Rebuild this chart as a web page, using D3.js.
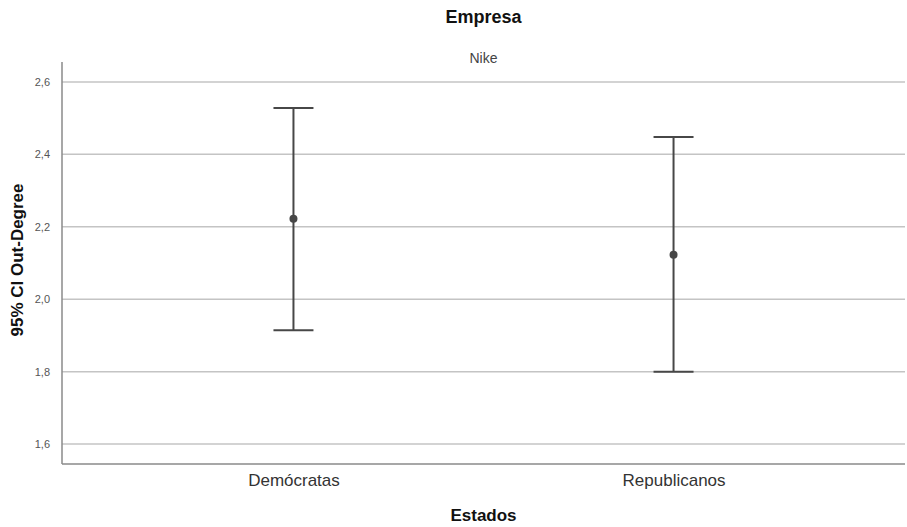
<!DOCTYPE html>
<html>
<head>
<meta charset="utf-8">
<script src="https://cdn.jsdelivr.net/npm/d3@7"></script>
<style>
  body { margin: 0; background: #fff; }
  svg { display: block; font-family: "Liberation Sans", Arial, sans-serif; }
</style>
</head>
<body>
<svg id="chart" width="907" height="527"></svg>
<script>
const categories = ["Demócratas", "Republicanos"];
const means = [2.222, 2.123];
const lowerCI = [1.914, 1.800];
const upperCI = [2.528, 2.448];
const yTicks = [1.6, 1.8, 2.0, 2.2, 2.4, 2.6];
const chartTitle = "Empresa";
const subTitle = "Nike";
const yLabel = "95% CI Out-Degree";
const xLabel = "Estados";

(function () {
const svg = d3.select("#chart");
const mLeft = 62, mRight = 905, mTop = 62, mBottom = 464;
const cx = (mLeft + mRight) / 2;

const y = d3.scaleLinear().domain([1.545, 2.655]).range([mBottom, mTop]);
const x = d3.scalePoint().domain(categories).range([mLeft, mRight]).padding(0.609);

const fmt = v => d3.format(".1f")(v).replace(".", ",");

// gridlines
svg.append("g").selectAll("line").data(yTicks).join("line")
  .attr("x1", mLeft).attr("x2", mRight)
  .attr("y1", d => y(d)).attr("y2", d => y(d))
  .attr("stroke", "#c4c4c4").attr("stroke-width", 1.5);

// y axis
const yAxis = d3.axisLeft(y).tickValues(yTicks).tickFormat(fmt).tickSize(0).tickPadding(12);
const gy = svg.append("g").attr("transform", `translate(${mLeft},0)`).call(yAxis);
gy.select(".domain").attr("stroke", "#8a8a8a").attr("stroke-width", 1.5).attr("d", `M0,${mTop}V${mBottom}`);
gy.selectAll("text").attr("font-size", 11).attr("fill", "#555");

// x axis
const xAxis = d3.axisBottom(x).tickSize(0).tickPadding(10);
const gx = svg.append("g").attr("transform", `translate(0,${mBottom})`).call(xAxis);
gx.select(".domain").attr("stroke", "#8a8a8a").attr("stroke-width", 1.5).attr("d", `M${mLeft},0H${mRight}`);
gx.selectAll("text").attr("font-size", 17).attr("fill", "#333");

// error bars
const data = categories.map((c, i) => ({ c, m: means[i], lo: lowerCI[i], hi: upperCI[i] }));
const g = svg.append("g");
const capW = 20;
g.selectAll(".stem").data(data).join("line").attr("class", "stem")
  .attr("x1", d => x(d.c)).attr("x2", d => x(d.c))
  .attr("y1", d => y(d.hi)).attr("y2", d => y(d.lo))
  .attr("stroke", "#474747").attr("stroke-width", 2);
g.selectAll(".capHi").data(data).join("line").attr("class", "capHi")
  .attr("x1", d => x(d.c) - capW).attr("x2", d => x(d.c) + capW)
  .attr("y1", d => y(d.hi)).attr("y2", d => y(d.hi))
  .attr("stroke", "#474747").attr("stroke-width", 2);
g.selectAll(".capLo").data(data).join("line").attr("class", "capLo")
  .attr("x1", d => x(d.c) - capW).attr("x2", d => x(d.c) + capW)
  .attr("y1", d => y(d.lo)).attr("y2", d => y(d.lo))
  .attr("stroke", "#474747").attr("stroke-width", 2);
g.selectAll("circle").data(data).join("circle")
  .attr("cx", d => x(d.c)).attr("cy", d => y(d.m)).attr("r", 4)
  .attr("fill", "#474747");

// titles
svg.append("text").attr("x", cx).attr("y", 23).attr("text-anchor", "middle")
  .attr("font-size", 18).attr("font-weight", "bold").attr("fill", "#111").text(chartTitle);
svg.append("text").attr("x", cx).attr("y", 63).attr("text-anchor", "middle")
  .attr("font-size", 14).attr("fill", "#444").text(subTitle);
svg.append("text").attr("transform", `translate(23,260) rotate(-90)`).attr("text-anchor", "middle")
  .attr("font-size", 17).attr("font-weight", "bold").attr("fill", "#111").text(yLabel);
svg.append("text").attr("x", cx).attr("y", 521).attr("text-anchor", "middle")
  .attr("font-size", 17).attr("font-weight", "bold").attr("fill", "#111").text(xLabel);
})();
</script>
</body>
</html>
